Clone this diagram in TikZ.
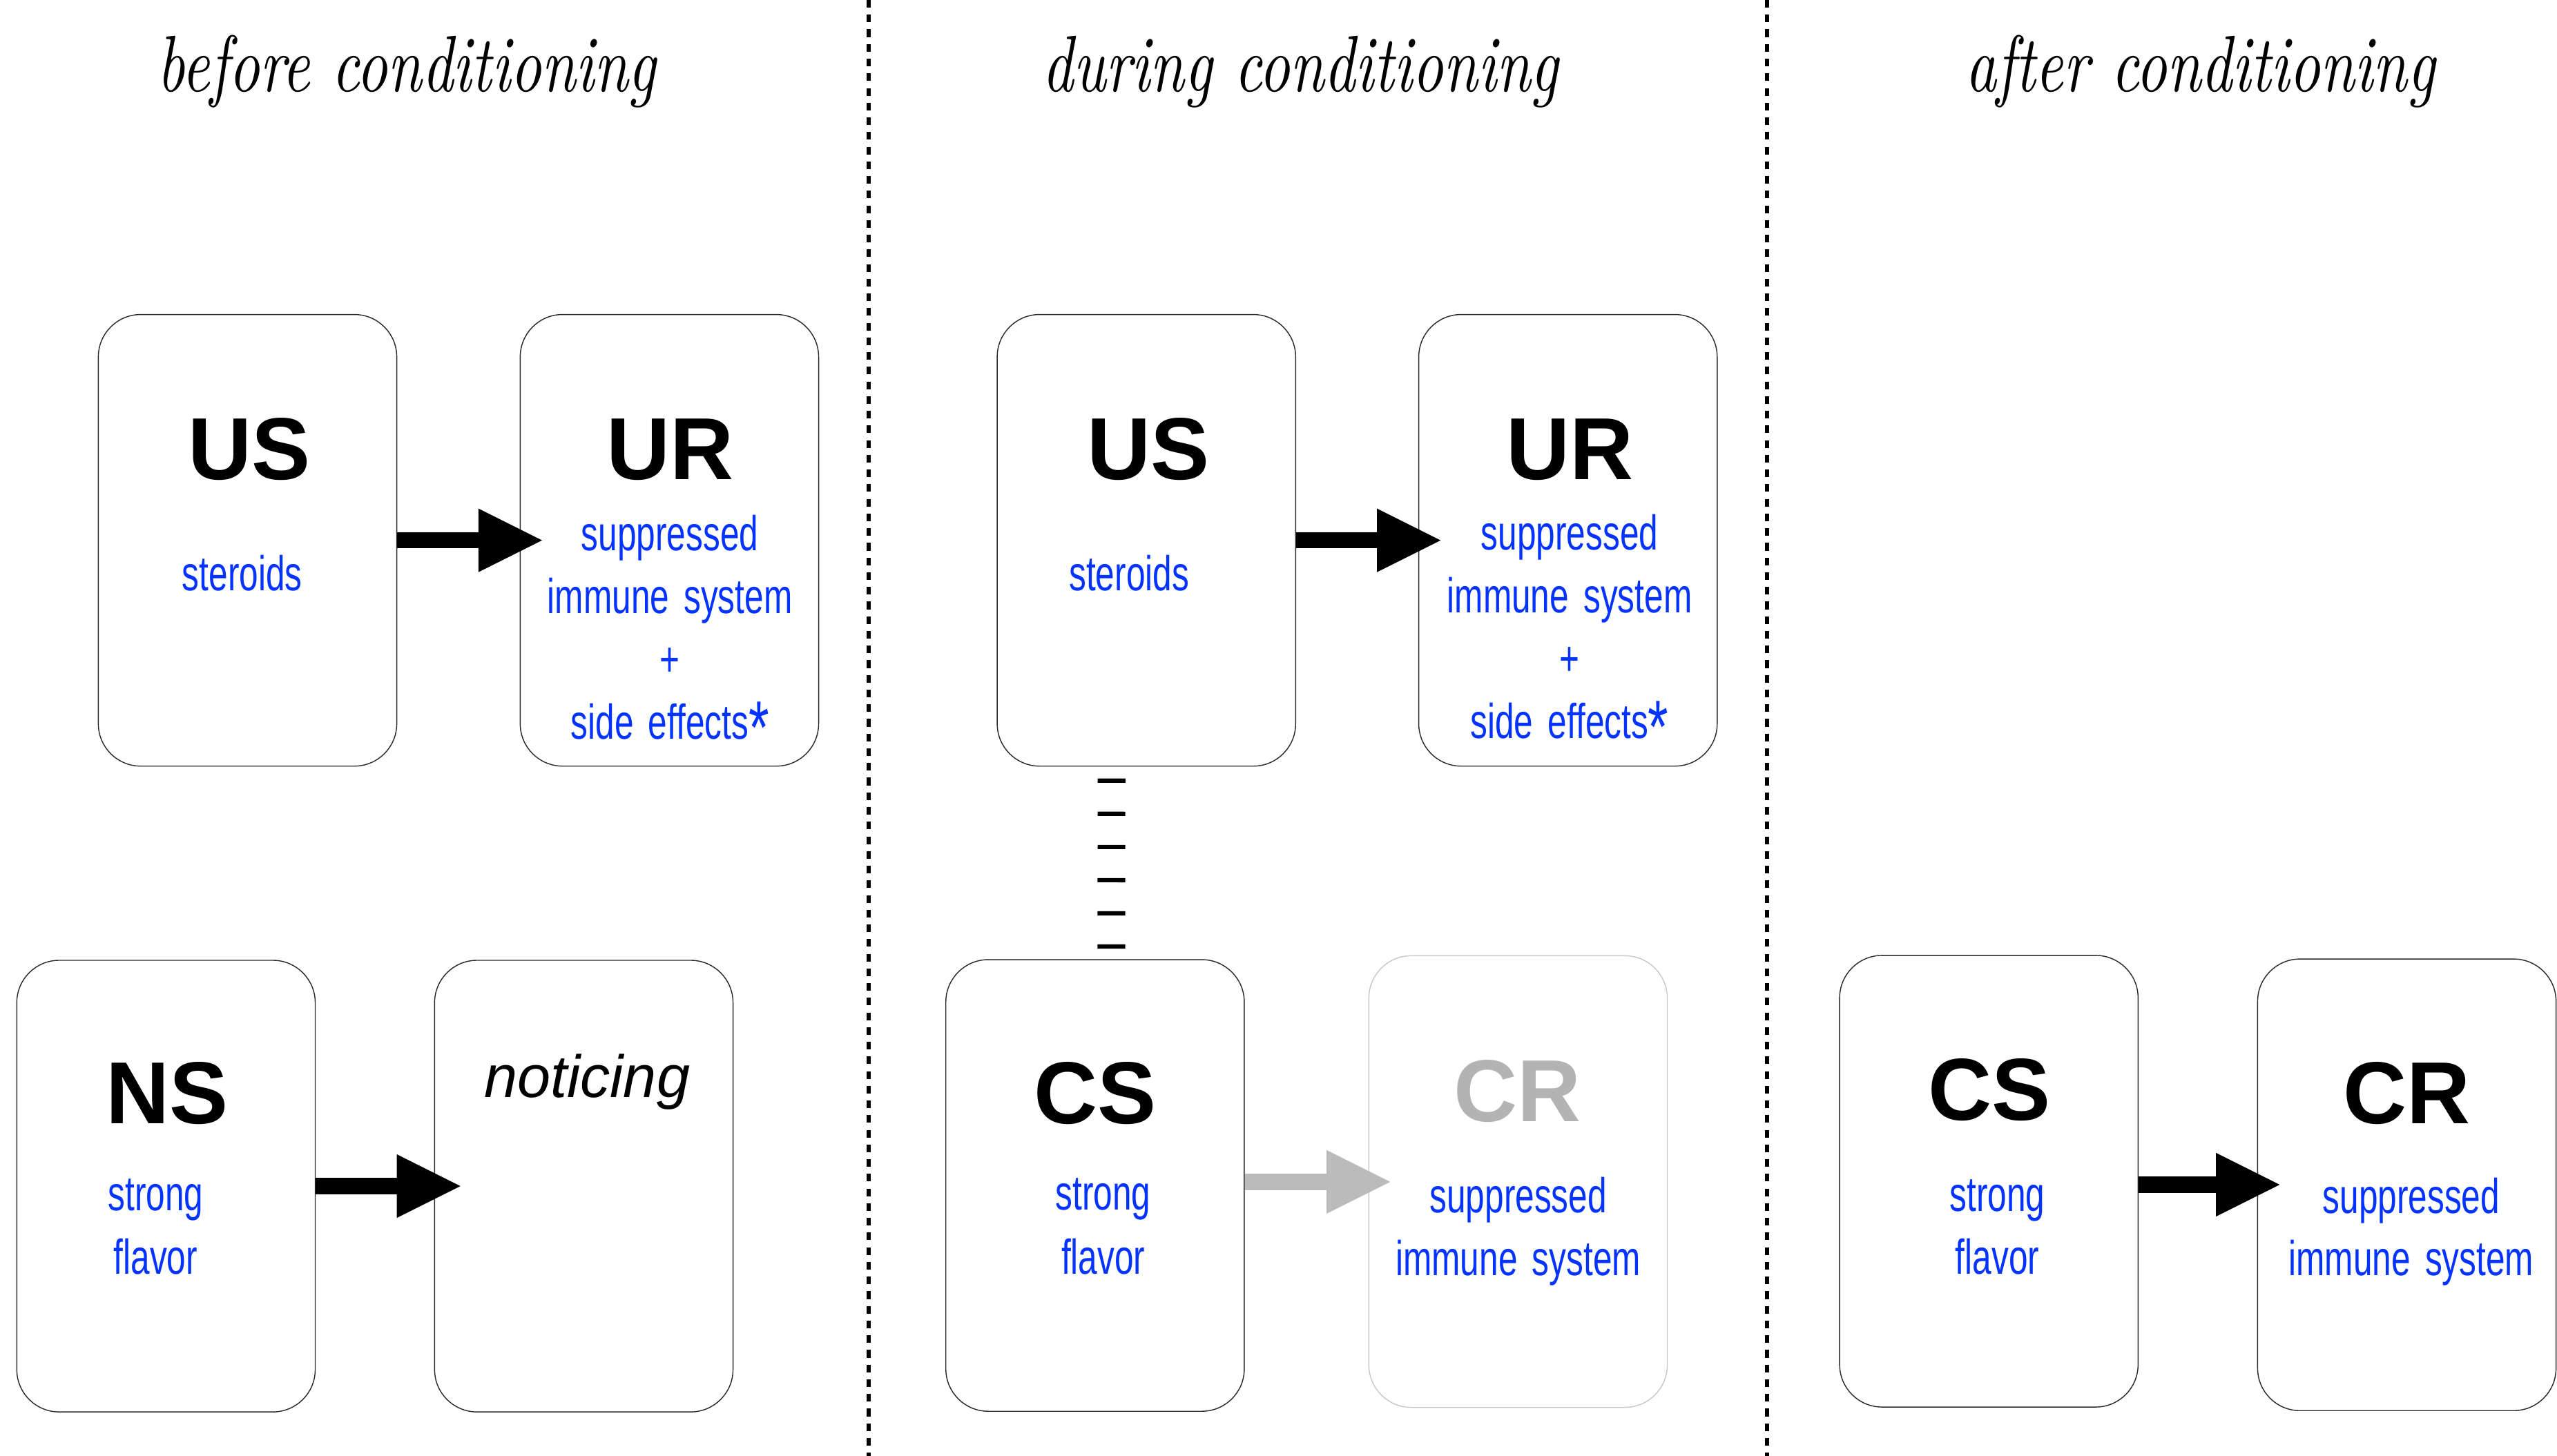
\documentclass[tikz,border=0pt]{standalone}
\usepackage{fontspec}
\usetikzlibrary{arrows.meta,calc}
\newfontfamily\headfont{lmroman10-italic.otf}[FakeStretch=0.76]
\newfontfamily\handfont{Liberation Sans}[FakeStretch=0.7]
\newfontfamily\labfont{Liberation Sans}
\definecolor{hand}{RGB}{4,51,255}
\definecolor{boxline}{RGB}{40,40,40}
\definecolor{fadebox}{RGB}{200,200,200}
\definecolor{fadetext}{RGB}{179,179,179}
\definecolor{fadearrow}{RGB}{187,187,187}
\newcommand{\bigast}{{\fontsize{46}{46}\selectfont\raisebox{-9pt}{*}}}
\tikzset{
  card/.style={draw=boxline, line width=0.6pt, rounded corners=26pt,
    minimum width=183pt, minimum height=277pt, inner sep=0pt},
  fadedcard/.style={card, draw=fadebox},
  title/.style={anchor=base, inner sep=0pt, font=\labfont\bfseries\fontsize{54}{54}\selectfont},
  handtxt/.style={anchor=base, inner sep=0pt, text=hand, font=\handfont\fontsize{30}{38.5}\selectfont},
  header/.style={anchor=base, inner sep=0pt, font=\headfont\fontsize{49}{49}\selectfont},
  bigarrow/.style={line width=10pt, -{Triangle[length=39pt,width=39pt,line width=0pt]}},
  sepline/.style={line width=2.5pt, dash pattern=on 4.7pt off 4.3pt},
  dashlink/.style={line width=17pt, dash pattern=on 2.6pt off 17.75pt},
}
\begin{document}
\begin{tikzpicture}[x=1pt,y=-1pt]
\useasboundingbox (0,0) rectangle (1568,893);
% separators
\draw[sepline] (532.7,0) -- (532.7,893);
\draw[sepline] (1083.6,0) -- (1083.6,893);
% headers
\node[header] (h1) at (249.4,56) {before conditioning};
\node[header] (h2) at (797.5,56) {during conditioning};
\node[header] (h3) at (1349.4,56) {after conditioning};
% cards
\node[card] (US1) at (151.8,331.4) {};
\node[card] (UR1) at (410.5,331.4) {};
\node[card] (NS) at (101.8,727.5) {};
\node[card] (NOT) at (358,727.5) {};
\node[card] (US2) at (703,331.4) {};
\node[card] (UR2) at (961.5,331.4) {};
\node[card] (CS2) at (671.5,727.1) {};
\node[fadedcard] (CR2) at (930.9,724.7) {};
\node[card] (CS3) at (1219.6,724.5) {};
\node[card] (CR3) at (1475.9,726.7) {};
% titles
\node[title] (tUS1) at (152.9,294) {US};
\node[title] (tUR1) at (411,294) {UR};
\node[title] (tUS2) at (704,294) {US};
\node[title] (tUR2) at (962.6,294) {UR};
\node[title] (tNS) at (102.6,689.1) {NS};
\node[title] (tCS2) at (671.7,689.1) {CS};
\node[title,text=fadetext] (tCR2) at (930.5,687.8) {CR};
\node[title] (tCS3) at (1219.9,687) {CS};
\node[title] (tCR3) at (1475.8,689.2) {CR};
\node[anchor=base, inner sep=0pt, font=\labfont\itshape\fontsize{36.6}{36.6}\selectfont] (tnot) at (360,673.2) {noticing};
% handwritten lines
\node[handtxt] (a1) at (148.5,362.3) {steroids};
\node[handtxt] (b1) at (410.8,337.7) {suppressed};
\node[handtxt] (b2) at (410.8,376.2) {immune\hspace{9pt}system};
\node[handtxt] (b3) at (410.8,414.7) {+};
\node[handtxt] (b4) at (410.8,453.2) {side\hspace{9pt}effects\bigast};
\node[handtxt] (c1) at (95.5,742.7) {strong};
\node[handtxt] (c2) at (95.4,781.4) {flavor};
\node[handtxt] (d1) at (692.4,362.1) {steroids};
\node[handtxt] (e1) at (962.5,337.4) {suppressed};
\node[handtxt] (e2) at (962.5,375.9) {immune\hspace{9pt}system};
\node[handtxt] (e3) at (962.5,414.4) {+};
\node[handtxt] (e4) at (962.5,452.9) {side\hspace{9pt}effects\bigast};
\node[handtxt] (f1) at (676.5,742.2) {strong};
\node[handtxt] (f2) at (676.5,781.3) {flavor};
\node[handtxt] (g1) at (931,743.6) {suppressed};
\node[handtxt] (g2) at (931,782.2) {immune\hspace{9pt}system};
\node[handtxt] (k1) at (1224.8,743.1) {strong};
\node[handtxt] (k2) at (1224.8,781.3) {flavor};
\node[handtxt] (m1) at (1478.6,744.2) {suppressed};
\node[handtxt] (m2) at (1478.6,782.3) {immune\hspace{9pt}system};
% connectors
\draw[bigarrow] (US1.east) -- ($(UR1.west)+(13.7,0)$);
\draw[bigarrow] (US2.east) -- ($(UR2.west)+(13.7,0)$);
\draw[bigarrow] (NS.east) -- ($(NOT.west)+(16.1,0)$);
\draw[bigarrow, color=fadearrow] ($(CS2.east)+(0,-2.2)$) -- ($(CS2.east -| CR2.west)+(13.4,-2.2)$);
\draw[bigarrow] ($(CS3.east)+(0,2.1)$) -- ($(CS3.east -| CR3.west)+(13.8,2.1)$);
\draw[dashlink] ($(US2.south)+(-21.4,7.3)$) -- ($(CS2.north)+(10,0)$);
\end{tikzpicture}
\end{document}
